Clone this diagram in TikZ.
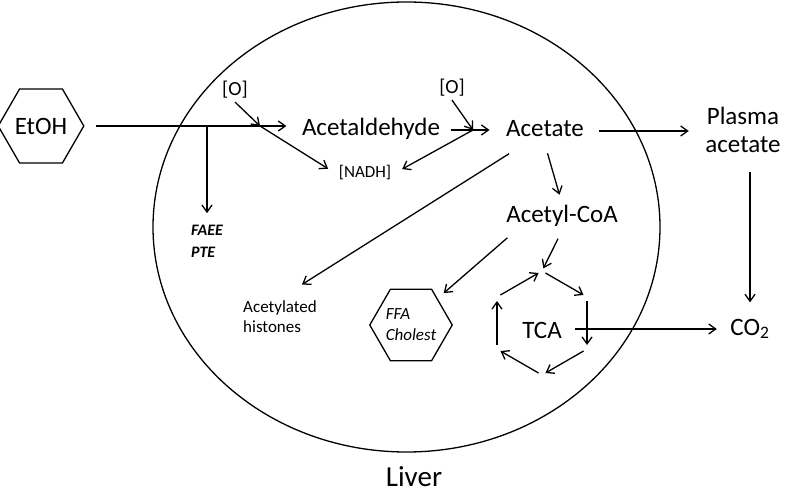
\documentclass[tikz,border=0pt]{standalone}
\usepackage{fontspec}
\setmainfont{Carlito}
\usetikzlibrary{shapes,arrows.meta,positioning,calc}

\begin{document}
\begin{tikzpicture}[x=1pt,y=-1pt,line width=1.3pt,
    >={Straight Barb[length=7pt,width=10pt]},
    met/.style={font=\fontsize{25}{28}\selectfont,inner sep=2pt,text height=17pt,text depth=5pt},
    lbl/.style={font=\fontsize{17}{20}\selectfont,inner sep=2pt,align=left},
    hexa/.style={draw,regular polygon,regular polygon sides=6,inner sep=0pt}]
    \useasboundingbox (0,0) rectangle (787,494);

    % Liver
    \draw (406.5,227) ellipse [x radius=253.5pt,y radius=225pt];
    \node[font=\fontsize{29}{32}\selectfont,inner sep=0pt] (Liver) at (414,477) {Liver};

    % EtOH and first oxidation
    \node[hexa,minimum size=76pt,font=\fontsize{25}{28}\selectfont] (EtOH) at (41,126) {EtOH};
    \node[met] (Ald) at (371,130) {Acetaldehyde};
    \node[font=\fontsize{20}{24}\selectfont] (O1) at (235,89.5) {[O]};
    \node[font=\fontsize{17}{20}\selectfont] (NADH) at (365,173) {[NADH]};
    \node[lbl,font=\fontsize{16}{22}\selectfont\bfseries\itshape] (FAEE) at (207,241) {FAEE\\PTE};
    \coordinate (j1) at (260,126);

    \draw[->,shorten <=11pt,shorten >=13pt] (EtOH.east) -- (EtOH.east -| Ald.west);
    \draw[->,shorten >=9pt] (FAEE.north |- EtOH.east) -- (FAEE.north);
    \draw[->] (O1.south) -- (j1);
    \draw[->,shorten >=8pt] (j1) -- (NADH.west);

    % Acetate
    \node[met] (Ac) at (545,131) {Acetate};
    \node[font=\fontsize{20}{24}\selectfont] (O2) at (452,87.5) {[O]};
    \coordinate (j2) at (473,130);

    \draw[->,shorten <=8pt,shorten >=14pt] (Ald.east) -- (Ald.east -| Ac.west);
    \draw[->] (O2.south) -- (j2);
    \draw[->,shorten >=8pt] (j2) -- (NADH.east);

    % Plasma acetate and CO2
    \node[font=\fontsize{25}{28}\selectfont,align=center,inner sep=2pt] (Pl) at (743,130) {Plasma\\acetate};
    \node[met] (CO2) at (750,329) {CO\textsubscript{2}};

    \draw[->,shorten <=12pt,shorten >=14pt] (Ac.east) -- (Ac.east -| Pl.west);
    \draw[->,shorten <=17pt,shorten >=13pt] (CO2.north |- Pl.south) -- (CO2.north);

    % Acetyl-CoA and products
    \node[met] (AcCoA) at (562,217) {Acetyl-CoA};
    \node[lbl] (Hist) at (280,317) {Acetylated\\histones};
    \node[hexa,minimum size=75pt,font=\fontsize{17}{21}\selectfont\itshape,align=left] (FFA) at (411,325) {FFA\\Cholest};

    \draw[->,shorten <=9pt,shorten >=9pt] (Ac.south) -- (AcCoA.north);
    \draw[->,shorten <=17pt,shorten >=26pt] (Ac) -- (Hist.north);
    \draw[->,shorten <=11pt,shorten >=8pt] ([xshift=12pt]AcCoA.south west) -- (FFA.north east);

    % TCA cycle
    \node[met] (TCA) at (542,332) {TCA};
    \coordinate (cyc) at (542,323);
    \foreach \a in {30,90,...,330}
        \coordinate (c\a) at ([shift={(\a:52)}]cyc);
    \foreach \a/\b in {30/90,90/150,150/210,210/270,270/330,330/30}
        \draw[->,shorten <=4pt,shorten >=4pt] (c\a) -- (c\b);

    \draw[->,shorten <=9pt,shorten >=3pt] (AcCoA.south) -- (c270);
    \draw[->,shorten <=11pt,shorten >=11pt] (TCA.east |- CO2.west) -- (CO2.west);
\end{tikzpicture}
\end{document}
